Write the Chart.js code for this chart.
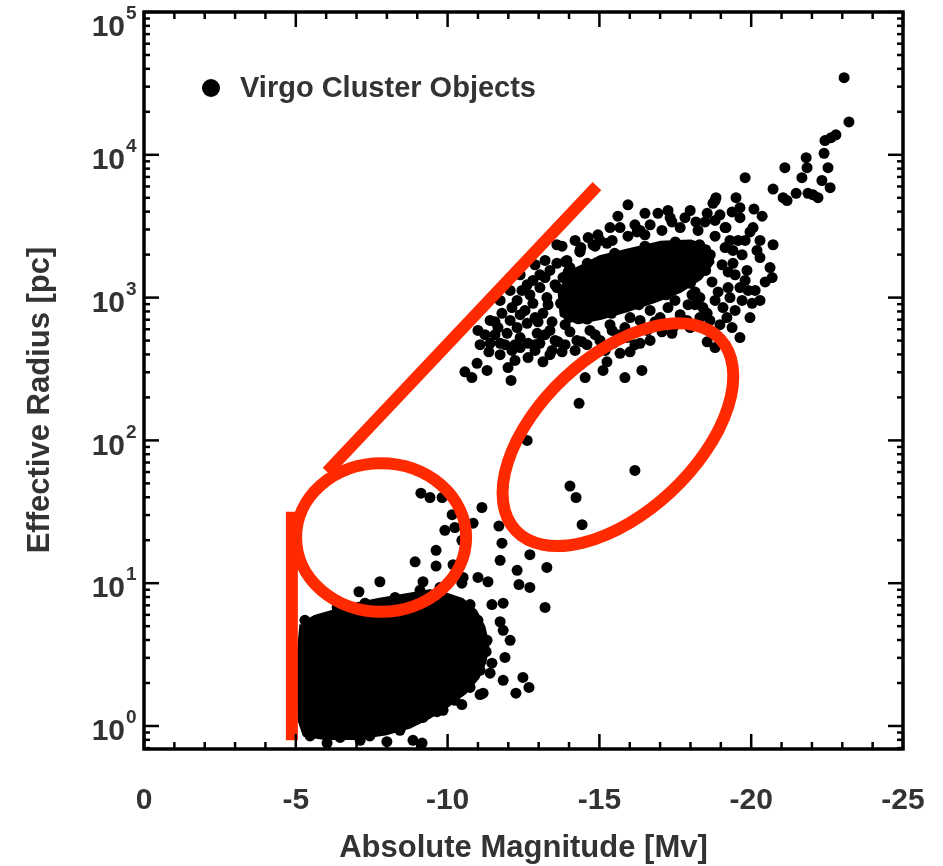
<!DOCTYPE html>
<html>
<head>
<meta charset="utf-8">
<title>Virgo Cluster Objects</title>
<script src="https://cdn.jsdelivr.net/npm/chart.js@4.4.1/dist/chart.umd.min.js"></script>
<style>
    html, body { margin: 0; padding: 0; background: #fff; }
    canvas { display: block; }
</style>
</head>
<body>
<canvas id="virgo_size_chart" width="943" height="866"></canvas>
<script>
"use strict";

// Each pair is [absolute magnitude Mv, log10 of effective radius in pc]
var objects = [
    [-23.06, 4.54], [-23.22, 4.23], [-22.79, 4.14], [-22.63, 4.12], [-22.43, 4.10], [-22.40, 4.01],
    [-21.81, 3.98], [-21.84, 3.91], [-22.53, 3.91], [-21.11, 3.91], [-21.67, 3.84], [-22.33, 3.82],
    [-22.60, 3.77], [-19.80, 3.84], [-20.72, 3.76], [-21.48, 3.73], [-21.87, 3.73], [-22.04, 3.72],
    [-22.20, 3.70], [-21.05, 3.70], [-21.18, 3.68], [-18.84, 3.70], [-18.74, 3.66], [-19.50, 3.70],
    [-19.63, 3.63], [-19.37, 3.60], [-20.09, 3.62], [-20.36, 3.57], [-18.55, 3.59], [-19.63, 3.56],
    [-15.94, 3.65], [-15.61, 3.57], [-16.50, 3.59], [-16.93, 3.59], [-17.26, 3.61], [-18.81, 3.68],
    [-20.06, 3.49], [-18.81, 3.54], [-17.82, 3.56], [-18.18, 3.53], [-16.24, 3.46], [-14.79, 3.37],
    [-14.39, 3.35], [-15.25, 3.38], [-13.77, 3.36], [-19.17, 3.49], [-20.72, 3.37], [-20.19, 3.33],
    [-19.40, 3.33], [-19.70, 3.30], [-20.62, 3.21], [-20.69, 3.14], [-20.46, 3.11], [-20.29, 3.28],
    [-19.86, 3.19], [-19.40, 3.24], [-19.63, 3.07], [-19.30, 3.00], [-19.07, 2.93], [-20.03, 2.96],
    [-19.96, 2.86], [-19.63, 2.72], [-19.37, 2.79], [-18.97, 2.81], [-19.20, 2.86], [-18.55, 2.89],
    [-18.41, 2.93], [-18.05, 3.02], [-18.31, 2.86], [-17.89, 2.84], [-17.43, 2.79], [-17.06, 2.76],
    [-17.39, 2.75], [-16.57, 2.77], [-15.91, 2.72], [-15.45, 2.68], [-18.55, 2.69], [-18.81, 2.65],
    [-16.40, 2.49], [-15.84, 2.44], [-15.12, 2.49], [-14.53, 2.44], [-15.25, 2.55], [-15.68, 2.61],
    [-16.01, 2.62], [-16.17, 2.67], [-16.34, 2.68], [-14.92, 2.62], [-14.59, 2.67], [-14.26, 2.70],
    [-13.64, 2.69], [-13.77, 2.62], [-13.44, 2.63], [-13.14, 2.55], [-12.88, 2.63], [-12.65, 2.58],
    [-12.39, 2.65], [-12.12, 2.63], [-11.73, 2.68], [-11.36, 2.62], [-11.40, 2.68], [-11.99, 2.51],
    [-12.09, 2.42], [-10.57, 2.48], [-10.80, 2.44], [-10.97, 2.54], [-11.30, 2.49],
    [-11.79, 2.89], [-12.06, 2.84], [-11.66, 2.79], [-11.96, 2.75], [-12.29, 2.79], [-12.62, 2.82],
    [-12.39, 2.72], [-12.95, 2.75], [-13.04, 2.68], [-12.65, 2.68], [-13.37, 2.77], [-13.14, 2.89],
    [-12.81, 2.96], [-13.27, 3.00], [-13.60, 3.07], [-13.04, 3.07], [-12.62, 3.09], [-12.29, 2.98],
    [-12.12, 2.93], [-13.37, 3.19], [-13.80, 3.14], [-14.03, 3.21], [-13.60, 3.24], [-12.81, 3.12],
    [-13.04, 3.16], [-13.60, 3.37], [-13.93, 3.26],
    [-19.14, 3.49], [-19.80, 3.40], [-19.47, 3.16], [-19.24, 3.07], [-18.81, 2.98], [-19.90, 3.05],
    [-20.29, 2.98], [-18.64, 2.84], [-15.02, 3.40], [-16.34, 3.47], [-17.39, 3.53], [-14.36, 3.32],
    [-13.87, 3.25], [-14.36, 3.33], [-14.86, 3.36], [-15.42, 3.40], [-15.94, 3.43], [-16.50, 3.44],
    [-17.06, 3.47], [-17.66, 3.49], [-18.25, 3.47], [-18.81, 3.43], [-19.14, 3.35], [-19.04, 3.23],
    [-18.71, 3.11], [-18.15, 3.04], [-17.49, 2.98], [-16.67, 2.91], [-16.01, 2.86], [-15.35, 2.81],
    [-14.69, 2.77], [-14.03, 2.76], [-13.44, 2.83], [-13.31, 2.95], [-13.54, 3.09], [-13.97, 3.18],
    [-11.73, 2.98], [-11.40, 2.84], [-11.23, 2.74], [-12.39, 2.88], [-12.88, 2.86], [-12.71, 3.02],
    [-13.21, 3.26], [-12.88, 3.23], [-12.39, 3.16], [-12.06, 3.05], [-11.56, 2.74], [-12.22, 2.67],
    [-13.87, 2.67], [-14.43, 2.69], [-15.02, 2.70], [-15.61, 2.74], [-16.83, 2.83], [-17.66, 2.88],
    [-18.15, 2.95], [-19.80, 3.12], [-19.57, 3.40], [-19.96, 3.46], [-18.97, 3.58], [-17.99, 3.61],
    [-16.67, 3.51], [-15.68, 3.49], [-14.20, 3.40], [-14.95, 3.44], [-17.99, 2.79],
    [-11.56, 2.83], [-11.89, 2.67], [-12.22, 2.56], [-12.55, 2.91], [-12.88, 2.67], [-13.21, 2.74],
    [-13.54, 2.70], [-13.37, 2.60], [-13.87, 2.81], [-12.98, 2.83], [-12.45, 3.05], [-13.21, 3.14],
    [-11.07, 2.67], [-11.00, 2.77], [-11.73, 2.60], [-14.86, 2.74], [-15.42, 2.77], [-15.84, 2.79],
    [-16.34, 2.84], [-17.00, 2.86], [-17.26, 2.93], [-17.92, 2.95], [-18.31, 3.00], [-16.67, 2.70],
    [-14.20, 2.63], [-15.19, 2.63], [-19.30, 3.40], [-19.24, 3.18], [-18.91, 3.04], [-19.70, 2.98],
    [-20.13, 3.05], [-19.47, 2.91], [-20.29, 3.40], [-15.35, 3.49], [-16.17, 3.51], [-17.33, 3.56],
    [-18.48, 3.53], [-14.63, 3.42],
    [-14.60, 3.24], [-15.50, 3.31], [-16.50, 3.36], [-17.50, 3.39], [-18.30, 3.37], [-18.65, 3.30],
    [-18.50, 3.19], [-18.00, 3.10], [-17.20, 3.02], [-16.30, 2.95], [-15.40, 2.89], [-14.60, 2.85],
    [-14.00, 2.86], [-13.72, 2.96],
    [-14.33, 2.26], [-12.62, 2.00], [-16.17, 1.79], [-14.03, 1.68], [-14.23, 1.60], [-14.43, 1.41],
    [-11.13, 1.53], [-10.15, 1.48], [-9.91, 1.37], [-10.24, 1.39], [-10.84, 1.42], [-11.79, 1.28],
    [-11.73, 1.16], [-12.71, 1.20], [-12.29, 1.09], [-13.27, 1.11], [-10.51, 1.04], [-11.00, 1.04],
    [-11.33, 1.01], [-9.12, 1.63], [-9.42, 1.60], [-9.82, 1.60], [-10.47, 1.30], [-9.62, 1.23],
    [-9.62, 1.12], [-8.93, 1.15], [-10.18, 1.13], [-7.77, 1.01], [-7.08, 0.94], [-9.19, 1.01],
    [-10.47, 1.00], [-11.69, 1.40], [-12.35, 0.99], [-12.71, 0.97], [-13.21, 0.83], [-11.83, 0.86],
    [-12.06, 0.60], [-11.89, 0.48], [-12.48, 0.34], [-12.68, 0.27], [-12.25, 0.23], [-11.46, 0.85],
    [-11.73, 0.73], [-11.40, 0.37], [-11.83, 0.32], [-11.17, 0.23], [-10.47, 0.15], [-9.85, 0.11],
    [-9.19, 0.06], [-8.86, -0.10], [-9.16, -0.12], [-7.12, -0.10], [-8.00, -0.11], [-6.03, -0.12],
    [-11.83, 0.67], [-11.46, 0.44], [-11.07, 0.22], [-11.30, 0.60],
    [-6.36, 0.83], [-7.28, 0.86], [-8.27, 0.90], [-9.09, 0.95], [-9.75, 0.97], [-10.74, 0.85],
    [-11.00, 0.74], [-11.27, 0.52], [-11.07, 0.39], [-10.74, 0.27], [-10.24, 0.18], [-9.65, 0.10],
    [-8.43, -0.03], [-7.44, -0.07], [-6.46, -0.08], [-5.47, -0.07], [-5.30, 0.74]
];

// Outlines of the parts where the dots merge into solid black
var denseCore = [
    [-13.70, 3.05], [-14.20, 3.19], [-15.02, 3.28], [-16.01, 3.33], [-17.00, 3.38], [-17.99, 3.39],
    [-18.58, 3.35], [-18.71, 3.25], [-18.31, 3.14], [-17.66, 3.05], [-16.83, 2.98], [-15.84, 2.91],
    [-15.02, 2.86], [-14.30, 2.83], [-13.77, 2.88]
];
var denseBlob = [
    [-5.20, 0.71], [-5.63, 0.76], [-6.29, 0.80], [-7.02, 0.85], [-7.77, 0.88], [-8.60, 0.91],
    [-9.42, 0.94], [-9.91, 0.92], [-10.47, 0.88], [-10.90, 0.80], [-11.17, 0.69], [-11.30, 0.57],
    [-11.20, 0.45], [-10.97, 0.34], [-10.57, 0.24], [-10.01, 0.15], [-9.42, 0.07], [-8.76, 0.00],
    [-7.94, -0.05], [-6.95, -0.08], [-5.96, -0.08], [-5.30, -0.06], [-5.14, 0.04], [-5.11, 0.25],
    [-5.11, 0.50]
];

// Red hand drawn marks, same units
var redStem = [[-4.87, -0.10], [-4.87, 1.50]];
var redSlash = [[-6.03, 1.78], [-14.92, 3.78]];
var ringSmall = { center: [-7.81, 1.32], radiusMag: 2.80, radiusDex: 0.52 };
var ringLarge = { center: [-15.61, 2.04], majorEnd: [-18.98, 2.71], axisRatio: 0.557 };

var xTicks = [0, -5, -10, -15, -20, -25];
var yTickExponents = [0, 1, 2, 3, 4, 5];
var legendLabel = 'Virgo Cluster Objects';
var xTitle = 'Absolute Magnitude [Mv]';
var yTitle = 'Effective Radius [pc]';

var RED = '#ff2a00';
var INK = '#333333';
var FONT = '"Liberation Sans", Arial, Helvetica, sans-serif';
var Y_MIN = 0.69;
var Y_MAX = 1e5;

function toPoints(list) {
    return list.map(function (p) { return { x: p[0], y: Math.pow(10, p[1]) }; });
}

function closedShape(list) {
    return toPoints(list.concat([list[0]]));
}

// Rings on top of the dots, frame, ticks and texts on top of everything
var decorations = {
    id: 'decorations',
    afterDatasetsDraw: function (chart) {
        var ctx = chart.ctx, x = chart.scales.x, y = chart.scales.y;
        ctx.save();
        ctx.strokeStyle = RED;
        ctx.lineWidth = 12;

        var cx = x.getPixelForValue(ringSmall.center[0]);
        var cy = y.getPixelForValue(Math.pow(10, ringSmall.center[1]));
        var rx = Math.abs(x.getPixelForValue(ringSmall.center[0] - ringSmall.radiusMag) - cx);
        var ry = Math.abs(y.getPixelForValue(Math.pow(10, ringSmall.center[1] + ringSmall.radiusDex)) - cy);
        ctx.beginPath();
        ctx.ellipse(cx, cy, rx, ry, 0, 0, 2 * Math.PI);
        ctx.stroke();

        var lx = x.getPixelForValue(ringLarge.center[0]);
        var ly = y.getPixelForValue(Math.pow(10, ringLarge.center[1]));
        var ex = x.getPixelForValue(ringLarge.majorEnd[0]);
        var ey = y.getPixelForValue(Math.pow(10, ringLarge.majorEnd[1]));
        var a = Math.hypot(ex - lx, ey - ly);
        ctx.beginPath();
        ctx.ellipse(lx, ly, a, a * ringLarge.axisRatio, Math.atan2(ey - ly, ex - lx), 0, 2 * Math.PI);
        ctx.stroke();
        ctx.restore();
    },
    afterDraw: function (chart) {
        var ctx = chart.ctx, area = chart.chartArea, x = chart.scales.x, y = chart.scales.y;
        ctx.save();
        ctx.strokeStyle = '#000';

        function seg(x1, y1, x2, y2) {
            ctx.beginPath();
            ctx.moveTo(x1, y1);
            ctx.lineTo(x2, y2);
            ctx.stroke();
        }

        // inward ticks, all four sides
        ctx.lineWidth = 2.5;
        for (var m = 0; m >= -25; m--) {
            var px = x.getPixelForValue(m);
            var len = (m % 5 === 0) ? 15 : 7;
            seg(px, area.bottom, px, area.bottom - len);
            seg(px, area.top, px, area.top + len);
        }
        for (var e = -1; e <= 5; e++) {
            for (var k = 1; k < 10; k++) {
                var v = k * Math.pow(10, e);
                if (v < Y_MIN || v > Y_MAX) continue;
                var py = y.getPixelForValue(v);
                var ylen = (k === 1) ? 15 : 6;
                seg(area.left, py, area.left + ylen, py);
                seg(area.right, py, area.right - ylen, py);
            }
        }
        ctx.lineWidth = 3.5;
        ctx.strokeRect(area.left, area.top, area.right - area.left, area.bottom - area.top);

        ctx.fillStyle = INK;
        ctx.textBaseline = 'middle';

        // x tick labels
        ctx.font = 'bold 30px ' + FONT;
        ctx.textAlign = 'center';
        xTicks.forEach(function (t) {
            ctx.fillText(String(t), x.getPixelForValue(t), area.bottom + 52);
        });

        // y tick labels as 10 with a raised exponent, kept inside the canvas at the top
        yTickExponents.forEach(function (p) {
            var py = Math.max(y.getPixelForValue(Math.pow(10, p)), area.top + 10);
            ctx.font = 'bold 30px ' + FONT;
            ctx.textAlign = 'right';
            ctx.fillText('10', area.left - 19, py + 6);
            ctx.font = 'bold 19px ' + FONT;
            ctx.textAlign = 'left';
            ctx.fillText(String(p), area.left - 18, py - 8);
        });

        // axis titles
        ctx.font = 'bold 31px ' + FONT;
        ctx.textAlign = 'center';
        ctx.fillText(xTitle, (area.left + area.right) / 2, area.bottom + 99);
        ctx.save();
        ctx.translate(40, 400);
        ctx.rotate(-Math.PI / 2);
        ctx.fillText(yTitle, 0, 0);
        ctx.restore();

        // legend
        ctx.fillStyle = '#000';
        ctx.beginPath();
        ctx.arc(area.left + 67, area.top + 76, 9, 0, 2 * Math.PI);
        ctx.fill();
        ctx.fillStyle = INK;
        ctx.font = 'bold 29px ' + FONT;
        ctx.textAlign = 'left';
        ctx.fillText(legendLabel, area.left + 96, area.top + 77);

        ctx.restore();
    }
};

var config = {
    type: 'scatter',
    data: {
        datasets: [{
            label: 'red stem',
            data: toPoints(redStem),
            showLine: true,
            borderColor: RED,
            borderWidth: 12,
            borderCapStyle: 'butt',
            pointRadius: 0,
            order: 0
        }, {
            label: 'red slash',
            data: toPoints(redSlash),
            showLine: true,
            borderColor: RED,
            borderWidth: 12,
            borderCapStyle: 'butt',
            pointRadius: 0,
            order: 0
        }, {
            label: legendLabel,
            data: toPoints(objects),
            backgroundColor: '#000',
            borderWidth: 0,
            pointRadius: 5.5,
            pointHoverRadius: 5.5,
            order: 2
        }, {
            label: 'dense core',
            data: closedShape(denseCore),
            showLine: true,
            fill: 'shape',
            backgroundColor: '#000',
            borderColor: '#000',
            borderWidth: 5,
            borderJoinStyle: 'round',
            pointRadius: 0,
            order: 3
        }, {
            label: 'dense blob',
            data: closedShape(denseBlob),
            showLine: true,
            fill: 'shape',
            backgroundColor: '#000',
            borderColor: '#000',
            borderWidth: 5,
            borderJoinStyle: 'round',
            pointRadius: 0,
            order: 3
        }]
    },
    options: {
        responsive: false,
        animation: false,
        events: [],
        devicePixelRatio: 1,
        layout: {
            padding: { left: 144, top: 12, right: 40, bottom: 117 }
        },
        scales: {
            x: {
                type: 'linear',
                min: -25,
                max: 0,
                reverse: true,
                display: false
            },
            y: {
                type: 'logarithmic',
                min: Y_MIN,
                max: Y_MAX,
                display: false
            }
        },
        plugins: {
            legend: { display: false },
            tooltip: { enabled: false }
        }
    },
    plugins: [decorations]
};

var element = document.getElementById('virgo_size_chart');
element.chartInstance = new Chart(element.getContext('2d'), config);
</script>
</body>
</html>
